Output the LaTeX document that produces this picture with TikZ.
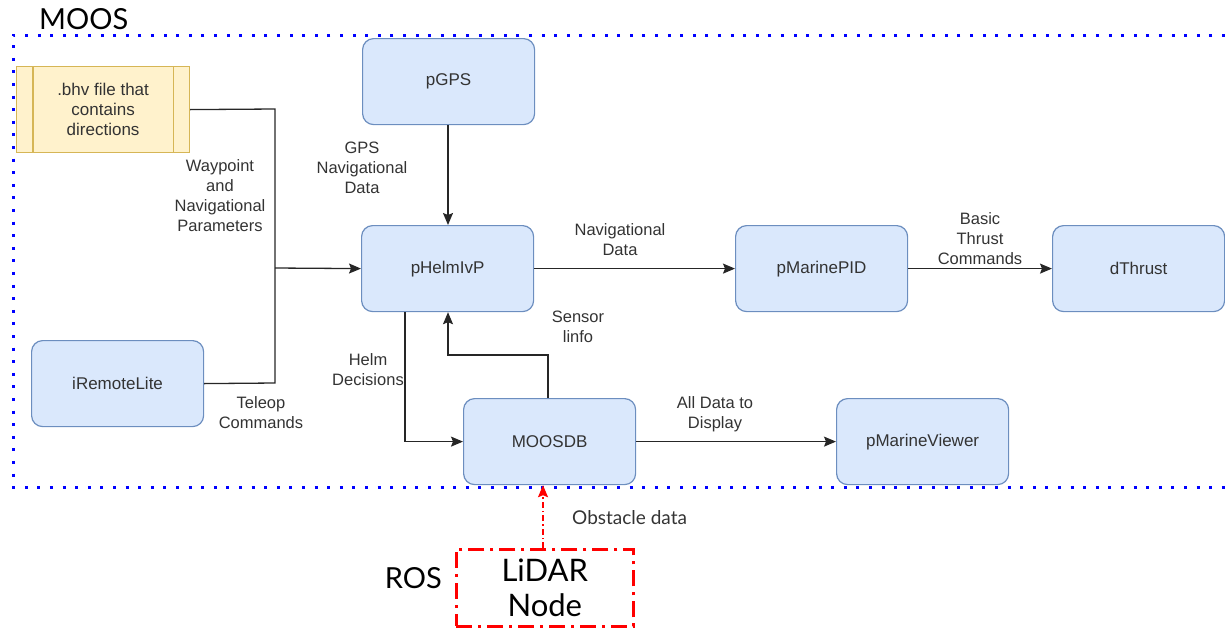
\documentclass[tikz,border=0pt]{standalone}
\usepackage{fontspec}
\setmainfont{Liberation Sans}
\newfontfamily\latofont{Lato}
\usetikzlibrary{arrows.meta,positioning}
\definecolor{bfill}{HTML}{DAE8FC}
\definecolor{bdraw}{HTML}{6C8EBF}
\definecolor{yfill}{HTML}{FFF2CC}
\definecolor{ydraw}{HTML}{D6B656}
\definecolor{txt}{HTML}{333333}
\definecolor{moosblue}{HTML}{0000FF}
\tikzset{
  proc/.style={draw=bdraw, fill=bfill, line width=1.2pt, rounded corners=11pt,
    minimum width=172pt, minimum height=86pt, inner sep=0pt, text=txt,
    font=\fontsize{17}{20}\selectfont, anchor=north west},
  lbl/.style={text=txt, align=center, font=\fontsize{16.5}{20}\selectfont, inner sep=0pt},
  conn/.style={draw=black!85, line width=1.3pt, -{Stealth[length=12pt,width=10pt,inset=2pt]}},
  plain/.style={draw=black!85, line width=1.3pt},
  moosline/.style={draw=moosblue, line width=3pt, dash pattern=on 3pt off 9.6pt},
  rosbox/.style={draw=red, line width=2.6pt, dash pattern=on 16pt off 6pt on 3pt off 6pt,
    minimum width=177pt, minimum height=77pt, inner sep=0pt, anchor=north west,
    align=center, font=\latofont\fontsize{31}{35}\selectfont},
}
\begin{document}
\begin{tikzpicture}[x=1pt,y=-1pt]
\useasboundingbox (0,0) rectangle (1225,627);
% MOOS boundary
\draw[moosline] (1225,35) -- (13,35) -- (13,487) -- (1225,487);
\node[anchor=west, inner sep=0pt, font=\latofont\fontsize{29}{32}\selectfont] (moos) at (39,19) {MOOS};
% bhv file
\node[draw=ydraw, fill=yfill, line width=1.2pt, minimum width=173pt, minimum height=86pt,
  inner sep=0pt, anchor=north west, text=txt, align=center,
  font=\fontsize{17}{20}\selectfont] (bhv) at (16,66) {.bhv file that\\contains\\directions};
\draw[ydraw, line width=1.2pt] ([xshift=17pt]bhv.north west) -- ([xshift=17pt]bhv.south west);
\draw[ydraw, line width=1.2pt] ([xshift=-17pt]bhv.north east) -- ([xshift=-17pt]bhv.south east);
% process boxes
\node[proc] (gps) at (362,38) {pGPS};
\node[proc] (helm) at (361,225) {pHelmIvP};
\node[proc] (pid) at (735,225) {pMarinePID};
\node[proc] (thrust) at (1052,225) {dThrust};
\node[proc] (remote) at (31,340) {iRemoteLite};
\node[proc] (db) at (463,398) {MOOSDB};
\node[proc] (viewer) at (836,398) {pMarineViewer};
% ROS
\node[rosbox] (lidar) at (455,548) {LiDAR\\Node};
\node[anchor=east, inner sep=0pt, font=\latofont\fontsize{29}{32}\selectfont] (ros) at (442,578) {ROS};
% connectors
\coordinate (j1) at (275,109);
\coordinate (j2) at (275,383);
\coordinate (jm) at (275,268);
\draw[plain] (bhv.east) -- (j1) -- (j2) -- (remote.east);
\draw[conn] (jm) -- (helm.west);
\draw[conn] (gps.south -| 448,0) -- (helm.north -| 448,0);
\draw[conn] (helm.east) -- (pid.west);
\draw[conn] (pid.east) -- (thrust.west);
\draw[conn] (helm.south -| 405,0) |- (db.west);
\coordinate (s1) at (548,355);
\coordinate (s2) at (448,355);
\draw[conn] (db.north -| s1) -- (s1) -- (s2) -- (helm.south -| s2);
\draw[conn] (db.east) -- (viewer.west);
\draw[draw=red, line width=1.6pt, dash pattern=on 6pt off 3pt on 1.5pt off 3pt,
  -{Stealth[length=12pt,width=10pt,inset=2pt,fill=red]}] (lidar.north -| 543,0) -- (db.south -| 543,0);
% labels
\node[lbl] (lwp) at (220,196) {Waypoint\\and\\Navigational\\Parameters};
\node[lbl] (lgps) at (362,168) {GPS\\Navigational\\Data};
\node[lbl] (lnav) at (620,240) {Navigational\\Data};
\node[lbl] (lbasic) at (980,239) {Basic\\Thrust\\Commands};
\node[lbl] (lsens) at (578,327) {Sensor\\linfo};
\node[lbl] (lhelm) at (368,370) {Helm\\Decisions};
\node[lbl] (ltele) at (261,413) {Teleop\\Commands};
\node[lbl] (lall) at (715,414) {All Data to\\Display};
\node[anchor=west, inner sep=0pt, text=txt, font=\latofont\fontsize{19}{22}\selectfont] (lobs) at (572,518) {Obstacle data};
\end{tikzpicture}
\end{document}
